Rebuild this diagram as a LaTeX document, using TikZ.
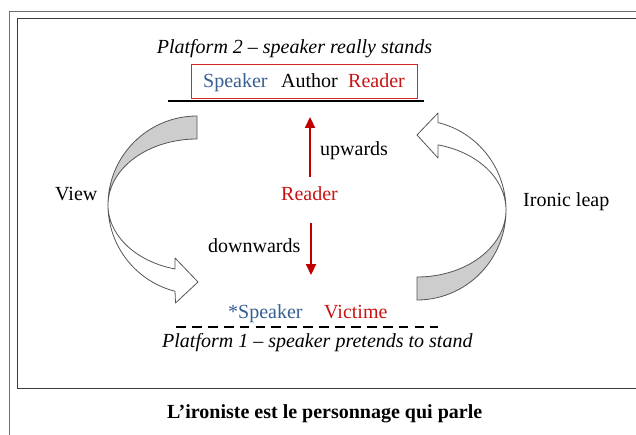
\documentclass[tikz,border=0pt]{standalone}
\usepackage{fontspec}
\setmainfont{Liberation Serif}
\usetikzlibrary{arrows.meta}
\definecolor{spkblue}{RGB}{55,96,146}
\definecolor{rdred}{RGB}{200,20,20}
\definecolor{arrred}{RGB}{192,0,0}
\definecolor{boxred}{RGB}{210,40,40}
\definecolor{bandgray}{RGB}{205,205,205}
\definecolor{edgegray}{RGB}{85,85,85}
\definecolor{framegray}{RGB}{110,110,110}
\definecolor{framedark}{RGB}{60,60,60}
\begin{document}
\begin{tikzpicture}[x=1pt,y=-1pt,
  lbl/.style={inner sep=0pt, font=\fontsize{20}{24}\selectfont},
  redarrow/.style={draw=arrred, line width=2.2pt, -{Triangle[width=10pt,length=11pt]}},
  band/.style={draw=edgegray, line width=0.8pt, line join=round},
]
\path[use as bounding box, clip] (0,0) rectangle (636,435);
\fill[white] (0,0) rectangle (636,435);
% frames
\draw[framegray, line width=1.2pt] (9.5,450) -- (9.5,11.5) -- (650,11.5);
\draw[framedark, line width=1pt] (650,388) -- (17.5,388) -- (17.5,18.5) -- (650,18.5);

% top platform
\node[lbl, anchor=base, font=\fontsize{20}{24}\selectfont\itshape] (p2) at (294.5,54) {Platform 2 – speaker really stands};
\node[draw=boxred, line width=0.9pt, minimum width=226pt, minimum height=34pt, inner sep=0pt] (box) at (304,81) {};
\node[lbl, anchor=base west, text=spkblue] (spk) at (203,88) {Speaker};
\node[lbl, anchor=base west] (auth) at (281,88) {Author};
\node[lbl, anchor=base west, text=rdred] (rd1) at (348,88) {Reader};
\coordinate (l2a) at (168,101);
\coordinate (l2b) at (424,101);
\draw[line width=2.5pt] (l2a) -- (l2b);

% middle
\node[lbl, anchor=base west, text=rdred] (rd2) at (281,201) {Reader};
\node[lbl, anchor=base west] (up) at (320,156) {upwards};
\node[lbl, anchor=base west] (down) at (208,252) {downwards};
\coordinate (upbase) at (310,177);
\coordinate (uptip) at (310,117);
\coordinate (dnbase) at (311,223);
\coordinate (dntip) at (311,275);
\draw[redarrow] (upbase) -- (uptip);
\draw[redarrow] (dnbase) -- (dntip);

\node[lbl, anchor=base west] (view) at (55,201) {View};
\node[lbl, anchor=base west] (leap) at (523,207) {Ironic leap};

% left curved arrow
\filldraw[band, fill=bandgray]
  plot[domain=-90:-180, samples=50] ({197+89*cos(\x)},{205+89*sin(\x)})
  -- plot[domain=-180:-90, samples=50] ({197+89*cos(\x)},{205+66*sin(\x)})
  -- cycle;
\filldraw[band, fill=white]
  plot[domain=-180:-255.7, samples=50] ({197+89*cos(\x)},{205+89*sin(\x)})
  -- (175.5,303) -- (198,282) -- (175,258)
  -- plot[domain=-255.7:-180, samples=50] ({197+89*cos(\x)},{205+66*sin(\x)})
  -- cycle;

% right curved arrow
\filldraw[band, fill=bandgray]
  plot[domain=90:0, samples=50] ({417+89*cos(\x)},{210+90*sin(\x)})
  -- plot[domain=0:90, samples=50] ({417+89*cos(\x)},{210+67*sin(\x)})
  -- cycle;
\filldraw[band, fill=white]
  plot[domain=0:-76.4, samples=50] ({417+89*cos(\x)},{210+90*sin(\x)})
  -- (438,113) -- (417,135) -- (438,158)
  -- plot[domain=-76.4:0, samples=50] ({417+89*cos(\x)},{210+67*sin(\x)})
  -- cycle;

% bottom platform
\node[lbl, anchor=base west, text=spkblue] (spk1) at (228,318) {*Speaker};
\node[lbl, anchor=base west, text=rdred] (vic) at (324,318) {Victime};
\coordinate (l1a) at (176,327);
\coordinate (l1b) at (438,327);
\draw[line width=2.5pt, dash pattern=on 9.8pt off 6.1pt] (l1a) -- (l1b);
\node[lbl, anchor=base west, font=\fontsize{20}{24}\selectfont\itshape] (p1) at (162,347) {Platform 1 – speaker pretends to stand};

% caption
\node[lbl, anchor=base west, font=\fontsize{20}{24}\selectfont\bfseries] (cap) at (167,418) {L’ironiste est le personnage qui parle};
\end{tikzpicture}
\end{document}
